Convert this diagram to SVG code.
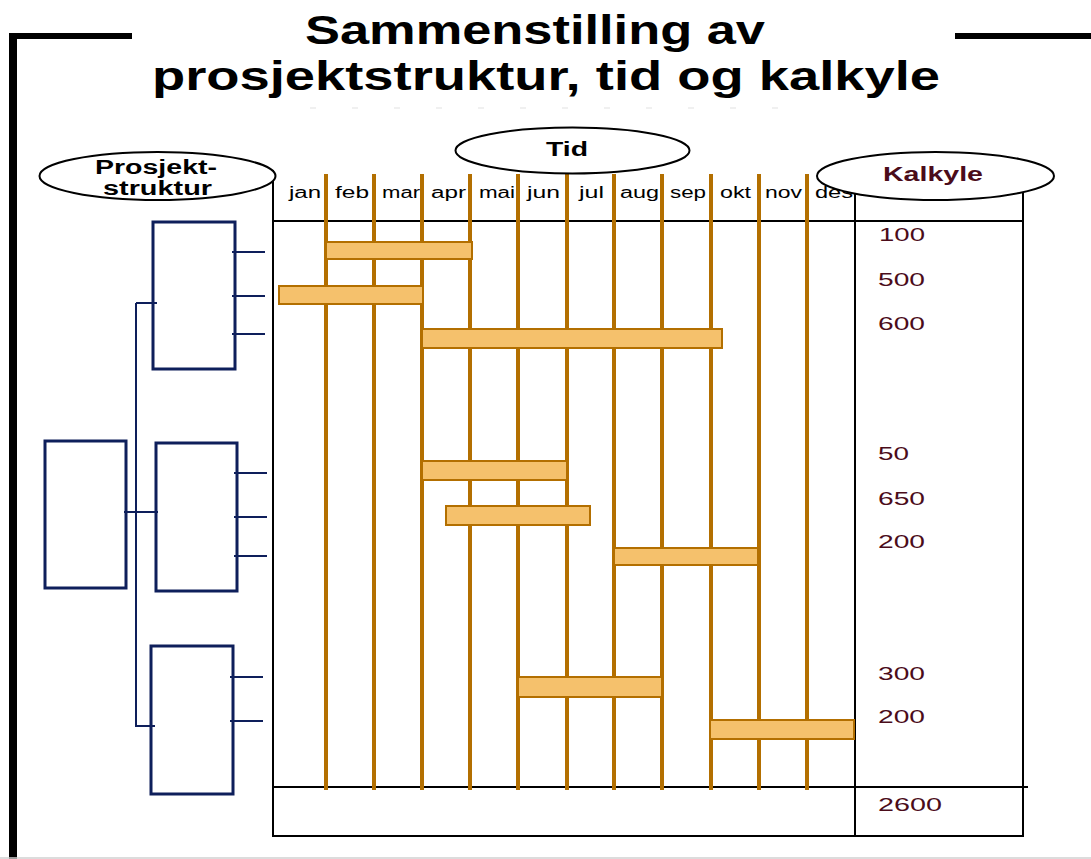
<svg xmlns="http://www.w3.org/2000/svg" width="1091" height="859" viewBox="0 0 1091 859">
<style>
.title{font-family:"Liberation Sans",Arial,sans-serif;font-weight:bold;font-size:40px;fill:#000}
.hdr{font-family:"Liberation Sans",Arial,sans-serif;font-weight:bold;font-size:20px;fill:#000}
.mon{font-family:"Liberation Sans",Arial,sans-serif;font-size:16px;fill:#000}
.num{font-family:"Liberation Sans",Arial,sans-serif;font-size:19px;fill:#4b0c1a}
.ell{fill:#fff;stroke:#000;stroke-width:2}
.tbl{stroke:#000;stroke-width:2;fill:none}
.mline{stroke:#b36f00;stroke-width:4}
.bar{fill:#f5c16c;stroke:#b36f00;stroke-width:2}
.box{fill:none;stroke:#0e1f5b;stroke-width:3}
.stub{stroke:#0e1f5b;stroke-width:2}
</style>
<rect x="0" y="0" width="1091" height="859" fill="#fff"/>
<g id="frame">
<rect x="9" y="33" width="8" height="826" fill="#000"/>
<rect x="9" y="33" width="123" height="6" fill="#000"/>
<rect x="955" y="33" width="136" height="6" fill="#000"/>
<line x1="0" y1="858" x2="1091" y2="858" stroke="#d0d0d0" stroke-width="1.5"/>
<line x1="310" y1="108" x2="810" y2="108" stroke="#ececec" stroke-width="1.5" stroke-dasharray="6 36"/>
</g>
<g id="title">
<text class="title" x="305" y="44" textLength="460" lengthAdjust="spacingAndGlyphs">Sammenstilling av</text>
<text class="title" x="152" y="90" textLength="788" lengthAdjust="spacingAndGlyphs">prosjektstruktur, tid og kalkyle</text>
</g>
<g id="table">
<line class="tbl" x1="273" y1="170" x2="273" y2="837" stroke-width="3"/>
<line class="tbl" x1="855" y1="185" x2="855" y2="837" stroke-width="3"/>
<line class="tbl" x1="1023" y1="185" x2="1023" y2="837"/>
<line class="tbl" x1="273" y1="221" x2="1023" y2="221"/>
<line class="tbl" x1="273" y1="787" x2="1028" y2="787"/>
<line class="tbl" x1="273" y1="836" x2="1024" y2="836"/>
</g>
<g id="months">
<text class="mon" x="289" y="198" textLength="32" lengthAdjust="spacingAndGlyphs">jan</text>
<text class="mon" x="335" y="198" textLength="34" lengthAdjust="spacingAndGlyphs">feb</text>
<text class="mon" x="382" y="198" textLength="38" lengthAdjust="spacingAndGlyphs">mar</text>
<text class="mon" x="431" y="198" textLength="35" lengthAdjust="spacingAndGlyphs">apr</text>
<text class="mon" x="479" y="198" textLength="36" lengthAdjust="spacingAndGlyphs">mai</text>
<text class="mon" x="527" y="198" textLength="33" lengthAdjust="spacingAndGlyphs">jun</text>
<text class="mon" x="579" y="198" textLength="25" lengthAdjust="spacingAndGlyphs">jul</text>
<text class="mon" x="620" y="198" textLength="39" lengthAdjust="spacingAndGlyphs">aug</text>
<text class="mon" x="670" y="198" textLength="36" lengthAdjust="spacingAndGlyphs">sep</text>
<text class="mon" x="720" y="198" textLength="31" lengthAdjust="spacingAndGlyphs">okt</text>
<text class="mon" x="765" y="198" textLength="37" lengthAdjust="spacingAndGlyphs">nov</text>
<text class="mon" x="815" y="198" textLength="38" lengthAdjust="spacingAndGlyphs">des</text>
</g>
<g id="connectors">
<line class="mline" x1="326" y1="174" x2="326" y2="790"/>
<line class="mline" x1="374" y1="174" x2="374" y2="790"/>
<line class="mline" x1="422" y1="174" x2="422" y2="790"/>
<line class="mline" x1="470" y1="174" x2="470" y2="790"/>
<line class="mline" x1="518" y1="174" x2="518" y2="790"/>
<line class="mline" x1="567" y1="174" x2="567" y2="790"/>
<line class="mline" x1="614" y1="174" x2="614" y2="790"/>
<line class="mline" x1="662" y1="174" x2="662" y2="790"/>
<line class="mline" x1="711" y1="174" x2="711" y2="790"/>
<line class="mline" x1="759" y1="174" x2="759" y2="790"/>
<line class="mline" x1="807" y1="174" x2="807" y2="790"/>
<line class="stub" x1="136" y1="303" x2="136" y2="727" stroke-width="2.5"/>
<line class="stub" x1="136" y1="303" x2="157" y2="303"/>
<line class="stub" x1="124" y1="512" x2="158" y2="512"/>
<line class="stub" x1="136" y1="726" x2="155" y2="726"/>
<line class="stub" x1="232" y1="252" x2="265" y2="252"/>
<line class="stub" x1="232" y1="296" x2="265" y2="296"/>
<line class="stub" x1="232" y1="334" x2="265" y2="334"/>
<line class="stub" x1="234" y1="473" x2="267" y2="473"/>
<line class="stub" x1="234" y1="517" x2="267" y2="517"/>
<line class="stub" x1="234" y1="556" x2="267" y2="556"/>
<line class="stub" x1="230" y1="677" x2="263" y2="677"/>
<line class="stub" x1="230" y1="721" x2="263" y2="721"/>
</g>
<g id="bars">
<rect class="bar" x="326" y="242" width="146" height="17"/>
<rect class="bar" x="279" y="286" width="144" height="18"/>
<rect class="bar" x="422" y="329" width="300" height="19"/>
<rect class="bar" x="422" y="461" width="145" height="19"/>
<rect class="bar" x="446" y="506" width="144" height="19"/>
<rect class="bar" x="614" y="548" width="144" height="17"/>
<rect class="bar" x="518" y="677" width="144" height="20"/>
<rect class="bar" x="710" y="720" width="144" height="19"/>
</g>
<g id="kalkyle-values">
<text class="num" x="879" y="241" textLength="46" lengthAdjust="spacingAndGlyphs">100</text>
<text class="num" x="878" y="286" textLength="47" lengthAdjust="spacingAndGlyphs">500</text>
<text class="num" x="878" y="330" textLength="47" lengthAdjust="spacingAndGlyphs">600</text>
<text class="num" x="878" y="460" textLength="31" lengthAdjust="spacingAndGlyphs">50</text>
<text class="num" x="878" y="505" textLength="47" lengthAdjust="spacingAndGlyphs">650</text>
<text class="num" x="878" y="548" textLength="47" lengthAdjust="spacingAndGlyphs">200</text>
<text class="num" x="878" y="680" textLength="47" lengthAdjust="spacingAndGlyphs">300</text>
<text class="num" x="878" y="723" textLength="47" lengthAdjust="spacingAndGlyphs">200</text>
<text class="num" x="878" y="811" textLength="64" lengthAdjust="spacingAndGlyphs">2600</text>
</g>
<g id="node-prosjektstruktur">
<ellipse class="ell" cx="157.5" cy="176" rx="118" ry="24"/>
<text class="hdr" x="95" y="174" textLength="122" lengthAdjust="spacingAndGlyphs">Prosjekt-</text>
<text class="hdr" x="103" y="195" textLength="109" lengthAdjust="spacingAndGlyphs">struktur</text>
</g>
<g id="node-tid">
<ellipse class="ell" cx="572.5" cy="150.5" rx="117" ry="23"/>
<text class="hdr" x="546" y="156" textLength="42" lengthAdjust="spacingAndGlyphs">Tid</text>
</g>
<g id="node-kalkyle">
<ellipse class="ell" cx="935.5" cy="176" rx="118.5" ry="24"/>
<text class="hdr" x="883" y="181" textLength="100" lengthAdjust="spacingAndGlyphs" style="fill:#4b0c1a">Kalkyle</text>
</g>
<g id="node-root"><rect class="box" x="45" y="441" width="81" height="147"/></g>
<g id="node-group1"><rect class="box" x="153" y="222" width="82" height="147"/></g>
<g id="node-group2"><rect class="box" x="156" y="443" width="81" height="148"/></g>
<g id="node-group3"><rect class="box" x="151" y="646" width="82" height="148"/></g>
</svg>
